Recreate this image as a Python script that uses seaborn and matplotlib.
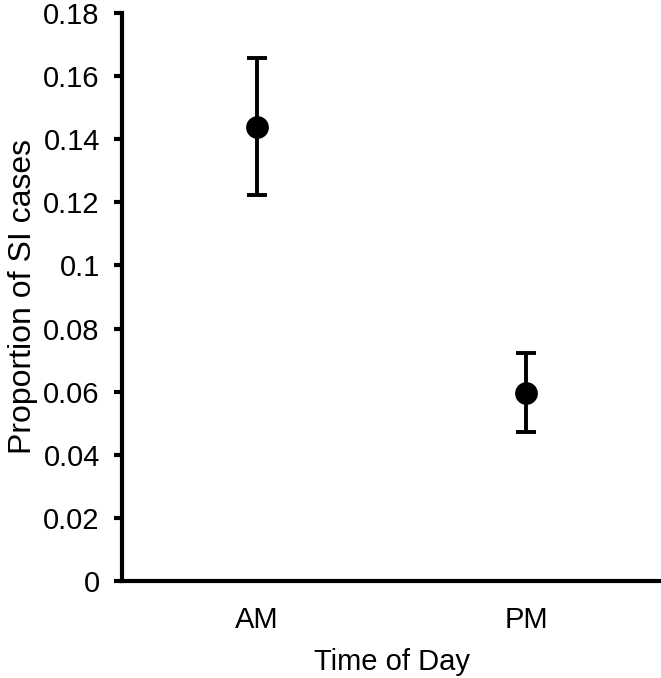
import seaborn as sns
import matplotlib.pyplot as plt
import pandas as pd
from matplotlib.ticker import FuncFormatter, MultipleLocator

sns.set_theme(style="ticks")
plt.rcParams['font.family'] = ['Liberation Sans', 'DejaVu Sans']
plt.rcParams['text.color'] = 'black'
plt.rcParams['axes.labelcolor'] = 'black'

# data
times = ["AM", "PM"]
proportion = [0.1439, 0.0596]
upper = [0.1656, 0.0723]
lower = [0.1222, 0.0471]

df = pd.DataFrame({"time": times, "prop": proportion})
err_low = [p - l for p, l in zip(proportion, lower)]
err_high = [u - p for p, u in zip(proportion, upper)]

fig = plt.figure(figsize=(6.61, 6.78), dpi=100)
ax = fig.add_axes([0.1846, 0.143, 0.8154, 0.838])

ax.errorbar(df["time"], df["prop"], yerr=[err_low, err_high], fmt="none",
            ecolor="black", elinewidth=2.8, capsize=7.5, capthick=2.8, zorder=2)
sns.scatterplot(data=df, x="time", y="prop", color="black", s=230,
                edgecolor="black", zorder=3, ax=ax, legend=False)

ax.set_xlim(-0.5, 1.5)
ax.set_ylim(0, 0.18)
ax.yaxis.set_major_locator(MultipleLocator(0.02))
ax.yaxis.set_major_formatter(FuncFormatter(lambda v, p: f"{v:.2f}".rstrip("0").rstrip(".") if v else "0"))

sns.despine(ax=ax)
for s in ["left", "bottom"]:
    ax.spines[s].set_linewidth(3)
    ax.spines[s].set_color("black")
ax.tick_params(axis="y", length=6, width=3, labelsize=21, colors="black", pad=10)
ax.tick_params(axis="x", length=0, labelsize=21, colors="black", pad=18)

ax.set_xlabel("Time of Day", fontsize=21, labelpad=10)
ax.set_ylabel("Proportion of SI cases", fontsize=23, labelpad=4)

fig.savefig("out.png", dpi=100)
